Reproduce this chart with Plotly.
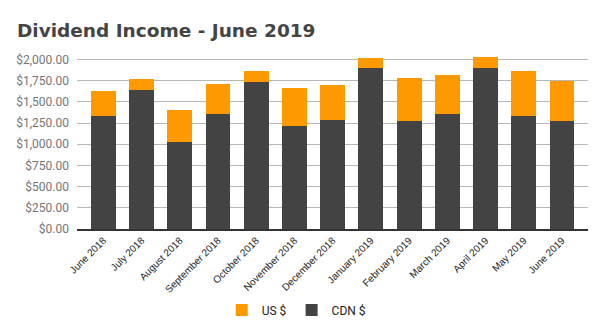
import plotly.graph_objects as go

months = ["June 2018", "July 2018", "August 2018", "September 2018", "October 2018",
          "November 2018", "December 2018", "January 2019", "February 2019",
          "March 2019", "April 2019", "May 2019", "June 2019"]
cdn = [1329, 1635, 1023, 1352, 1729, 1211, 1282, 1893, 1270, 1352, 1893, 1329, 1270]
totals = [1623, 1764, 1400, 1705, 1858, 1658, 1694, 2011, 1776, 1811, 2023, 1858, 1740]
us = [t - c for t, c in zip(totals, cdn)]

tickvals = [0, 250, 500, 750, 1000, 1250, 1500, 1750, 2000]
ticktext = ["$0.00", "$250.00", "$500.00", "$750.00", "$1,000.00", "$1,250.00",
            "$1,500.00", "$1,750.00", "$2,000.00"]

fig = go.Figure()
fig.add_trace(go.Bar(x=months, y=cdn, name="CDN $", marker_color="#434343",
                     marker_line_width=0))
fig.add_trace(go.Bar(x=months, y=us, name="US $", marker_color="#ff9900",
                     marker_line_width=0))

fig.update_layout(
    width=605, height=335,
    barmode="stack", bargap=0.35,
    plot_bgcolor="white", paper_bgcolor="white",
    margin=dict(l=77, r=17, t=56, b=105),
    title=dict(text="<b>Dividend Income - June 2019</b>", x=0.028, xanchor="left",
               y=0.91, yanchor="middle",
               font=dict(family="DejaVu Sans", size=18.5, color="#444444")),
    legend=dict(orientation="h", x=0.43, xanchor="center", y=-0.46, yanchor="middle",
                traceorder="reversed",
                font=dict(family="Roboto", size=12, color="#222222")),
    font=dict(family="Roboto"),
)
fig.update_xaxes(range=[-0.69, 12.68], tickangle=-45,
                 tickfont=dict(family="Arial", size=10, color="#222222"),
                 showgrid=False, showline=True, linecolor="#333333", linewidth=1.5,
                 ticks="")
fig.update_yaxes(range=[0, 2040], tickvals=tickvals, ticktext=ticktext,
                 tickfont=dict(family="Roboto", size=12, color="#757575"),
                 gridcolor="#b7b7b7", gridwidth=1, zeroline=False,
                 ticklabelstandoff=7, showline=False)

fig.write_html("out.html")
